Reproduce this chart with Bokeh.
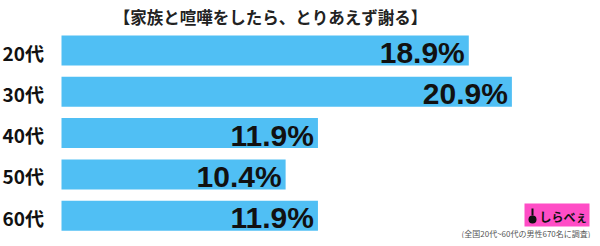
from bokeh.plotting import figure
from bokeh.models import Range1d, ColumnDataSource
from bokeh.core.properties import value
from bokeh.embed import file_html
from bokeh.resources import INLINE

# ---- data ----
title_text = "【家族と喧嘩をしたら、とりあえず謝る】"
categories = ["20代", "30代", "40代", "50代", "60代"]
values = [18.9, 20.9, 11.9, 10.4, 11.9]
value_labels = ["18.9%", "20.9%", "11.9%", "10.4%", "11.9%"]
footnote = "(全国20代~60代の男性670名に調査)"
logo_text = "しらべぇ"

# ---- layout (pixels inside the figure) ----
W, H = 592, 238
X0_PX = 61.0        # pixel of value 0
SX = 21.55          # pixels per percent
ROW0_PX = 50.0      # pixel centre of first row
SY = 41.3           # pixels per row

x_start = -X0_PX / SX
x_end = (W - X0_PX) / SX
y_top = -ROW0_PX / SY
y_bottom = (H - ROW0_PX) / SY

def xd(px):
    return x_start + px / SX

def yd(py):
    return y_top + py / SY

JP = "Noto Sans CJK JP"
NUM = "Liberation Sans"

p = figure(width=W, height=H, output_backend="svg", toolbar_location=None,
           x_range=Range1d(x_start, x_end), y_range=Range1d(y_bottom, y_top),
           min_border=0, min_border_left=0, min_border_right=0,
           min_border_top=0, min_border_bottom=0)
p.axis.visible = False
p.grid.visible = False
p.outline_line_color = None
p.background_fill_color = "white"
p.border_fill_color = "white"

rows = list(range(len(categories)))
src = ColumnDataSource(dict(
    y=rows, v=values, cat=categories, lab=value_labels,
    vx=[v - 4 / SX for v in values],
    vy=[r + 2 / SY for r in rows],
    cy=[r + 1.5 / SY for r in rows],
    lx=[xd(2)] * len(rows)))

p.hbar(y="y", left=0, right="v", height=30 / SY, source=src,
       fill_color="#50BFF4", line_color=None)

# value labels inside bars
p.text(x="vx", y="vy", text="lab", source=src, text_align="right",
       text_baseline="middle",
       text_font=value(NUM), text_font_style="bold", text_font_size="30px",
       text_color="#111111")

# category labels
p.text(x="lx", y="cy", text="cat", source=src, text_align="left",
       text_baseline="middle",
       text_font=value(JP), text_font_style="bold", text_font_size="19px",
       text_color="#111111")

# title
p.text(x=[xd(270)], y=[yd(16)], text=[title_text], text_align="center",
       text_baseline="middle", text_font=value(JP), text_font_style="bold",
       text_font_size="16.5px", text_color="#222222")

# footnote
p.text(x=[xd(590)], y=[yd(233)], text=[footnote], text_align="right",
       text_baseline="middle", text_font=value(JP), text_font_size="8px",
       text_color="#555555")

# logo
p.quad(left=[xd(524)], right=[xd(589)], top=[yd(203)], bottom=[yd(226)],
       fill_color="#FF4DC6", line_color=None)
p.ellipse(x=[xd(532)], y=[yd(219)], width=8 / SX, height=8 / SY,
          fill_color="#111111", line_color=None)
p.segment(x0=[xd(532)], y0=[yd(215)], x1=[xd(532)], y1=[yd(208)],
          line_color="#111111", line_width=2)
p.text(x=[xd(539)], y=[yd(216)], text=[logo_text], text_align="left",
       text_baseline="middle", text_font=value(JP), text_font_style="bold",
       text_font_size="12px", text_color="#111111")

open("out.html", "w").write(file_html(p, INLINE))
